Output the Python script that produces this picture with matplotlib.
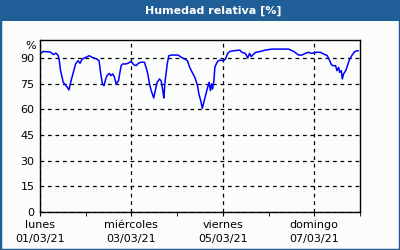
import matplotlib
matplotlib.use("Agg")
import matplotlib.pyplot as plt
from matplotlib.patches import Rectangle

# hours since 01/03/21 00:00, relative humidity %
hours = [0.2, 1.7, 5.4, 7.0, 8.4, 9.5, 10.0, 10.8, 12.2, 14.4, 15.2, 16.1, 17.5,
         18.7, 20.0, 21.0, 22.2, 24.0, 25.8, 27.5, 29.8, 31.0, 31.9, 32.8, 33.6,
         34.5, 35.2, 36.4, 37.3, 38.2, 39.1, 40.0, 41.2, 42.6, 43.4, 45.2, 46.4,
         47.8, 49.2, 50.5, 51.7, 53.1, 54.8, 55.7, 56.6, 57.5, 58.4, 59.7, 60.5,
         61.5, 62.7, 63.6, 64.5, 65.0, 65.7, 66.8, 67.6, 68.9, 72.5, 74.3, 76.0,
         77.4, 78.6, 79.9, 81.3, 82.7, 83.4, 84.4, 85.2, 86.0, 86.9, 88.0, 88.8,
         89.5, 90.1, 90.6, 91.3, 91.8, 92.7, 93.6, 94.9, 96.2, 97.4, 98.5, 99.7,
         101.5, 104.9, 106.0, 107.8, 109.1, 110.0, 110.9, 112.1, 113.3, 115.7,
         118.3, 121.8, 130.5, 133.2, 135.8, 137.5, 139.3, 141.0, 142.5, 145.1,
         147.2, 148.9, 150.7, 151.7, 153.0, 153.8, 155.2, 155.9, 156.8, 157.3,
         158.2, 158.7, 159.4, 160.5, 161.7, 162.6, 164.0, 165.2, 166.4, 167.0]
humidity = [92.7, 93.8, 93.5, 92.0, 92.8, 91.5, 89.4, 82.6, 75.8, 72.8, 71.3, 75.8, 81.6,
            86.5, 88.4, 86.9, 89.4, 90.3, 91.3, 90.3, 89.4, 88.4, 80.7, 74.8, 73.8,
            77.7, 79.7, 81.0, 79.7, 80.7, 78.7, 74.8, 76.7, 85.5, 86.5, 86.5, 87.0,
            88.0, 86.1, 85.5, 87.0, 87.5, 87.5, 84.5, 80.7, 74.8, 70.9, 66.6, 70.9,
            75.8, 77.7, 76.7, 70.9, 66.6, 76.7, 86.5, 91.3, 91.7, 91.7, 90.3, 89.4,
            88.4, 84.5, 81.6, 78.7, 73.8, 69.0, 65.0, 60.6, 64.1, 68.0, 72.8, 75.8,
            70.9, 74.8, 71.9, 76.7, 84.5, 86.9, 88.4, 88.7, 88.4, 89.4, 92.7, 93.8,
            94.2, 94.6, 93.3, 92.7, 90.0, 92.7, 90.8, 92.3, 93.3, 93.8,
            94.6, 95.2, 95.2, 93.8, 91.7, 91.7, 92.7, 93.3, 92.7, 93.3,
            93.3, 92.3, 91.5, 89.4, 86.1, 85.5, 85.5, 82.6, 84.5, 81.6,
            82.6, 77.7, 80.7, 82.6, 86.5, 89.4, 91.9, 93.7, 94.2, 94.2]

y_ticks = [0, 15, 30, 45, 60, 75, 90]
day_names = ["lunes", "miércoles", "viernes", "domingo"]
day_dates = ["01/03/21", "03/03/21", "05/03/21", "07/03/21"]

blue = "#1f5e96"

fig = plt.figure(figsize=(4, 2.5), dpi=100)
fig.patch.set_facecolor("#fbfdfb")
fig.patches.append(Rectangle((0, 0), 1, 1, transform=fig.transFigure,
                             fill=False, edgecolor=blue, lw=2.5))
fig.patches.append(Rectangle((0, 1 - 21 / 250), 1, 21 / 250, transform=fig.transFigure,
                             facecolor=blue, edgecolor="none"))
fig.text(213 / 400, 1 - 10.5 / 250, "Humedad relativa [%]", color="white",
         fontsize=8, fontweight="bold", ha="center", va="center")

ax = fig.add_axes([40 / 400, 1 - 212 / 250, 320 / 400, 172 / 250])
ax.set_facecolor("#fbfdfb")
ax.plot(hours, humidity, color="#0000ff", lw=1.1)
ax.set_xlim(0, 168)
ax.set_ylim(0, 100.5)

ax.set_yticks(y_ticks)
ax.set_yticklabels([str(v) for v in y_ticks], fontsize=8)
ax.tick_params(axis="y", length=0, pad=4)
ax.text(-0.012, 97, "%", transform=ax.get_yaxis_transform(), ha="right",
        va="center", fontsize=8)

ax.set_xticks([0, 48, 96, 144])
ax.set_xticklabels([f"{n}\n{d}" for n, d in zip(day_names, day_dates)],
                   fontsize=8, linespacing=1.5)
ax.set_xticks(range(0, 169, 24), minor=True)
ax.tick_params(axis="x", which="both", length=3, direction="out", pad=3)

ax.grid(True, color="black", linestyle=(0, (3, 3)), lw=0.9)
ax.xaxis.grid(True, which="major")
for spine in ax.spines.values():
    spine.set_color("black")
    spine.set_linewidth(1)

fig.savefig("out.png", dpi=100, facecolor=fig.get_facecolor())
